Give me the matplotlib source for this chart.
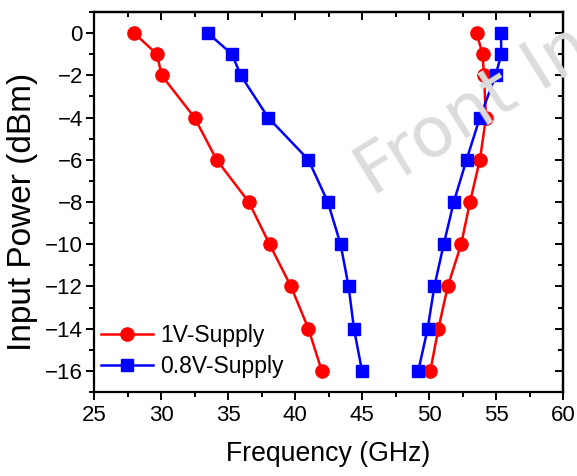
import matplotlib
matplotlib.use("Agg")
import matplotlib.pyplot as plt
from matplotlib.ticker import MultipleLocator

plt.rcParams['font.family'] = ['Liberation Sans', 'DejaVu Sans']

power = [0, -1, -2, -4, -6, -8, -10, -12, -14, -16]
red_low = [28.0, 29.7, 30.05, 32.5, 34.15, 36.55, 38.1, 39.7, 41.0, 42.0]
red_high = [53.55, 54.0, 54.1, 54.25, 53.8, 53.06, 52.4, 51.4, 50.7, 50.1]
blue_low = [33.5, 35.3, 35.95, 38.0, 41.0, 42.45, 43.4, 44.0, 44.4, 45.0]
blue_high = [55.37, 55.4, 54.97, 53.8, 52.8, 51.85, 51.1, 50.4, 49.9, 49.2]
labels = ['1V-Supply', '0.8V-Supply']

fig = plt.figure(figsize=(5.77, 4.76), dpi=100)
ax = fig.add_axes([94/577, 1-392/476, (563-94)/577, (392-12)/476])

# watermark (cut at the figure edge, as in the reference)
fig.text(372/577, 1-197/476, 'Front In', fontsize=50, color='#dcdcdc', rotation=32,
         ha='left', va='baseline', rotation_mode='anchor', zorder=0,
         family='DejaVu Sans')
ax.patch.set_alpha(0)

red = '#ff0000'
blue = '#0000ff'
ax.plot(red_low, power, '-o', color=red, lw=1.8, ms=9.5, label=labels[0])
ax.plot(red_high, power, '-o', color=red, lw=1.8, ms=9.5)
ax.plot(blue_low, power, '-s', color=blue, lw=1.8, ms=8, label=labels[1])
ax.plot(blue_high, power, '-s', color=blue, lw=1.8, ms=8)

ax.set_xlim(25, 60)
ax.set_ylim(-17, 1)
ax.xaxis.set_major_locator(MultipleLocator(5))
ax.xaxis.set_minor_locator(MultipleLocator(2.5))
ax.yaxis.set_major_locator(MultipleLocator(2))
ax.yaxis.set_minor_locator(MultipleLocator(1))

for s in ax.spines.values():
    s.set_linewidth(1.6)

ax.tick_params(which='both', direction='out', width=1.4, labelsize=16,
               top=False, right=False)
ax.tick_params(which='major', length=6)
ax.tick_params(which='minor', length=3.5)
ax.tick_params(axis='y', pad=2)

axt = ax.secondary_xaxis('top')
axt.xaxis.set_major_locator(MultipleLocator(5))
axt.xaxis.set_minor_locator(MultipleLocator(2.5))
axt.tick_params(which='both', direction='in', width=1.4, labeltop=False)
axt.tick_params(which='major', length=6)
axt.tick_params(which='minor', length=3.5)
axr = ax.secondary_yaxis('right')
axr.yaxis.set_major_locator(MultipleLocator(2))
axr.yaxis.set_minor_locator(MultipleLocator(1))
axr.tick_params(which='both', direction='in', width=1.4, labelright=False)
axr.tick_params(which='major', length=6)
axr.tick_params(which='minor', length=3.5)
for a in (axt, axr):
    for s in a.spines.values():
        s.set_linewidth(1.6)

ax.set_xlabel('Frequency (GHz)', fontsize=19.2)
ax.xaxis.set_label_coords(0.5, -0.13)
ax.set_ylabel('Input Power (dBm)', fontsize=24)
ax.yaxis.set_label_coords(-0.12, 0.474)

ax.legend(loc='lower left', bbox_to_anchor=(-0.02, -0.005), frameon=False,
          fontsize=16.5, handlelength=2.3, handletextpad=0.3, labelspacing=0.35,
          borderaxespad=0.3)

fig.savefig('out.png', dpi=100)
